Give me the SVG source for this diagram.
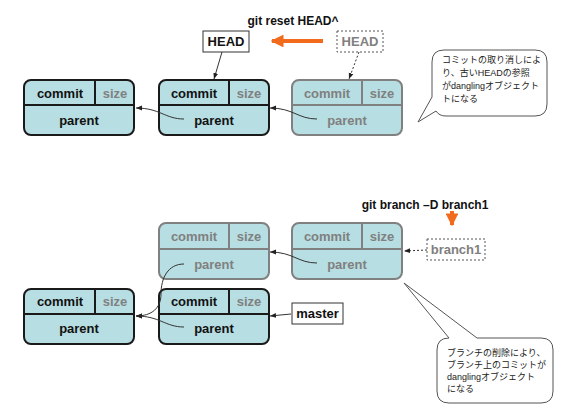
<svg xmlns="http://www.w3.org/2000/svg" width="566" height="420" viewBox="0 0 566 420">
<defs>
<style>
.nb{fill:#b7dee2;stroke:#1a1a1a;stroke-width:2}
.ng{fill:#b7dee2;stroke:#808080;stroke-width:2}
.lb{stroke:#1a1a1a;stroke-width:2;fill:none}
.lg{stroke:#808080;stroke-width:2;fill:none}
.t{font-family:"Liberation Sans",Arial,sans-serif;font-weight:bold;font-size:13px;text-anchor:middle;fill:#111}
.tt{font-size:12px}
.tg{fill:#808080}
.c{fill:none;stroke:#333;stroke-width:1}
.cd{fill:none;stroke:#333;stroke-width:1;stroke-dasharray:2,2}
.or{fill:none;stroke:#f26b1d;stroke-width:4}
.lbl{fill:#fff;stroke:#333;stroke-width:1}
.lbld{fill:#fff;stroke:#555;stroke-width:1;stroke-dasharray:2,2}
.call{fill:#fff;stroke:#555;stroke-width:1}
.j{font-family:"Liberation Sans","Noto Sans CJK JP",sans-serif;font-size:9px;fill:#222}
</style>
<marker id="a" viewBox="0 0 10 10" refX="10" refY="5" markerWidth="6" markerHeight="6" orient="auto" markerUnits="userSpaceOnUse"><path d="M0,1 L10,5 L0,9 Z" fill="#222"/></marker>
<marker id="ao" viewBox="0 0 10 10" refX="9" refY="5" markerWidth="3.2" markerHeight="3.2" orient="auto"><path d="M0,0 L10,5 L0,10 Z" fill="#f26b1d"/></marker>
</defs>

<g id="title-reset"><text class="t tt" x="293" y="25">git reset HEAD^</text></g>
<g id="title-branch"><text class="t tt" x="425" y="209">git branch –D branch1</text></g>

<g id="head">
<rect class="lbl" x="203" y="31" width="46" height="21"/>
<text class="t" x="226" y="46">HEAD</text>
</g>
<g id="head-old">
<rect class="lbld" x="337" y="31" width="46" height="21"/>
<text class="t tg" x="360" y="46">HEAD</text>
</g>

<g id="t-commit1">
<rect class="nb" x="24" y="80" width="110" height="55" rx="7"/>
<path class="lb" d="M24,105 H134 M95,80 V105"/>
<text class="t" x="60" y="98">commit</text>
<text class="t tg" x="115" y="98">size</text>
<text class="t" x="79" y="125">parent</text>
</g>
<g id="t-commit2">
<rect class="nb" x="159" y="80" width="110" height="55" rx="7"/>
<path class="lb" d="M159,105 H269 M229,80 V105"/>
<text class="t" x="194" y="98">commit</text>
<text class="t tg" x="249" y="98">size</text>
<text class="t" x="214" y="125">parent</text>
</g>
<g id="t-commit3">
<rect class="ng" x="292" y="80" width="110" height="55" rx="7"/>
<path class="lg" d="M292,105 H402 M362,80 V105"/>
<text class="t tg" x="327" y="98">commit</text>
<text class="t tg" x="382" y="98">size</text>
<text class="t tg" x="347" y="125">parent</text>
</g>

<g id="callout-top">
<path class="call" d="M444,50 H535 Q547,50 547,62 V104 Q547,116 535,116 H446 Q439,116 436,111 L418,122 L432,97 V62 Q432,50 444,50 Z"/>
<text class="j" x="442" y="63">コミットの取り消しによ</text>
<text class="j" x="442" y="76">り、古いHEADの参照</text>
<text class="j" x="442" y="89">がdanglingオブジェクト</text>
<text class="j" x="442" y="102">トになる</text>
</g>

<g id="b-commit-gray1">
<rect class="ng" x="159" y="223" width="110" height="56" rx="7"/>
<path class="lg" d="M159,249 H269 M229,223 V249"/>
<text class="t tg" x="194" y="241">commit</text>
<text class="t tg" x="249" y="241">size</text>
<text class="t tg" x="214" y="269">parent</text>
</g>
<g id="b-commit-gray2">
<rect class="ng" x="292" y="223" width="110" height="56" rx="7"/>
<path class="lg" d="M292,249 H402 M362,223 V249"/>
<text class="t tg" x="327" y="241">commit</text>
<text class="t tg" x="382" y="241">size</text>
<text class="t tg" x="347" y="269">parent</text>
</g>
<g id="b-commit1">
<rect class="nb" x="24" y="289" width="110" height="55" rx="7"/>
<path class="lb" d="M24,314 H134 M95,289 V314"/>
<text class="t" x="60" y="306">commit</text>
<text class="t tg" x="115" y="306">size</text>
<text class="t" x="79" y="333">parent</text>
</g>
<g id="b-commit2">
<rect class="nb" x="159" y="289" width="110" height="55" rx="7"/>
<path class="lb" d="M159,314 H269 M229,289 V314"/>
<text class="t" x="194" y="306">commit</text>
<text class="t tg" x="249" y="306">size</text>
<text class="t" x="214" y="333">parent</text>
</g>

<g id="branch1">
<rect class="lbld" x="427" y="239" width="58" height="21"/>
<text class="t tg" x="456" y="254">branch1</text>
</g>
<g id="master">
<rect class="lbl" x="292" y="303" width="51" height="21"/>
<text class="t" x="317.5" y="318">master</text>
</g>

<g id="callout-bottom">
<path class="call" d="M449,338 L404,283 L477,338 H541 Q553,338 553,350 V391 Q553,403 541,403 H449 Q437,403 437,391 V350 Q437,338 449,338 Z"/>
<text class="j" x="447" y="356">ブランチの削除により、</text>
<text class="j" x="447" y="368">ブランチ上のコミットが</text>
<text class="j" x="447" y="380">danglingオブジェクト</text>
<text class="j" x="447" y="392">になる</text>
</g>

<g id="connectors">
<path class="or" d="M323,41 H272" marker-end="url(#ao)"/>
<path class="or" d="M452,211 V225" marker-end="url(#ao)"/>
<path class="c" d="M184,119 C165,119 160,108 136,108" marker-end="url(#a)"/>
<path class="c" d="M317,119 C298,119 293,108 270,108" marker-end="url(#a)"/>
<path class="c" d="M222,52 L214,79" marker-end="url(#a)"/>
<path class="cd" d="M359,52 L349,79" marker-end="url(#a)"/>
<path class="c" d="M317,263 C298,263 293,252 270,252" marker-end="url(#a)"/>
<path class="c" d="M184,264 C168,264 161,278 161,294 C161,308 152,316 136,316" marker-end="url(#a)"/>
<path class="c" d="M184,327 C165,327 160,316 136,316" marker-end="url(#a)"/>
<path class="c" d="M291,314 L270,316" marker-end="url(#a)"/>
<path class="cd" d="M427,250 L404,251" marker-end="url(#a)"/>
</g>
</svg>
